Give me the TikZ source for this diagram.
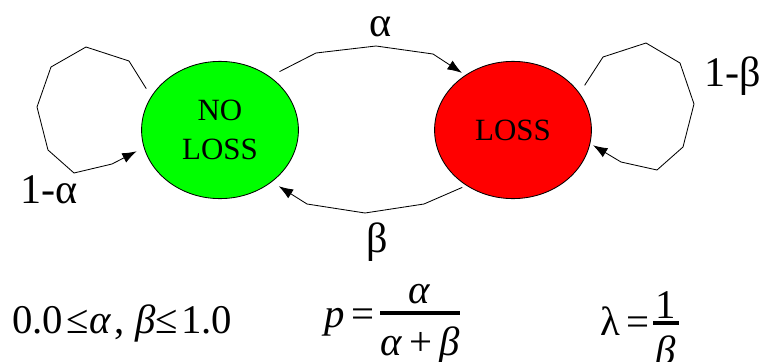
\documentclass[tikz,border=0pt]{standalone}
\usepackage{fontspec}
\setmainfont{Liberation Serif}
\usetikzlibrary{shapes.geometric, arrows.meta, positioning}
\definecolor{cGreen}{RGB}{0,255,0}
\definecolor{cRed}{RGB}{255,0,0}
\tikzset{
  mkstate/.style={ellipse, draw=black, line width=0.6pt,
                  minimum width=3.92cm, minimum height=3.43cm,
                  inner sep=0pt, align=center, font=\fontsize{22}{27.6}\selectfont},
  mkgood/.style={mkstate, fill=cGreen},
  mkbad/.style={mkstate, fill=cRed},
  mkarrow/.style={-{Latex[length=0.36cm, width=0.26cm]}, line width=0.6pt},
  mklabel/.style={inner sep=0pt, anchor=base, font=\fontsize{30}{36}\selectfont},
  mkeq/.style={inner sep=0pt, anchor=base west, font=\fontsize{29}{34}\selectfont},
  mkbar/.style={line width=2.6pt},
}
\begin{document}
\begin{tikzpicture}[x=0.025cm, y=-0.025cm]
  \useasboundingbox (0,0) rectangle (765,362);
  % Zustaende
  \node[mkgood] (noloss) at (220,130) {NO\\LOSS};
  \node[mkbad] (loss) at (513,130) {LOSS};
  % Uebergaenge
  \draw[mkarrow, shorten <=0.27cm, shorten >=0.1cm] (noloss.47) -- (316,53) -- (376,46) -- (433,54) -- (loss.131);
  \draw[mkarrow, shorten <=0.11cm, shorten >=0.2cm] (loss.230) -- (424,204) -- (365,213) -- (307,204) -- (noloss.315);
  % Schleifen
  \draw[mkarrow, shorten <=0.23cm, shorten >=0.2cm] (noloss.154) -- (129,61) -- (86,47) -- (51,67) -- (37,107)
    -- (48,150) -- (74,173) -- (112,164) -- (noloss.193);
  \draw[mkarrow, shorten <=0.23cm, shorten >=0.08cm] (loss.29) -- (603,57) -- (646,43) -- (680,63) -- (694,104)
    -- (683,147) -- (657,170) -- (621,162) -- (loss.350);
  % Beschriftungen
  \node[mklabel] (lalpha) at (381,36) {α};
  \node[mklabel] (lbeta) at (377,252) {β};
  \node[mklabel] (lstay) at (49,203) {1-α};
  \node[mklabel] (lback) at (733,86) {1-β};
  % Formeln
  \node[mkeq] (range) at (12,333) {0.0\kern2.5pt≤\textit{α}\kern2.5pt, \textit{β}≤\kern2.5pt1.0};
  \node[mkeq, anchor=base east] (pvar) at (375,327) {\textit{p}\,=};
  \node[mkeq, anchor=base] (pnum) at (420,303) {\textit{α}};
  \node[mkeq, anchor=base] (pden) at (420,355) {\textit{α}\,+\,\textit{β}};
  \draw[mkbar] (380,313) -- (460,313);
  \node[mkeq, anchor=base east] (lvar) at (650,335) {λ\,=};
  \node[mkeq, anchor=base] (lnum) at (666,318) {1};
  \node[mkeq, anchor=base] (lden) at (666,364) {\textit{β}};
  \draw[mkbar] (653,323) -- (679,323);
\end{tikzpicture}
\end{document}
